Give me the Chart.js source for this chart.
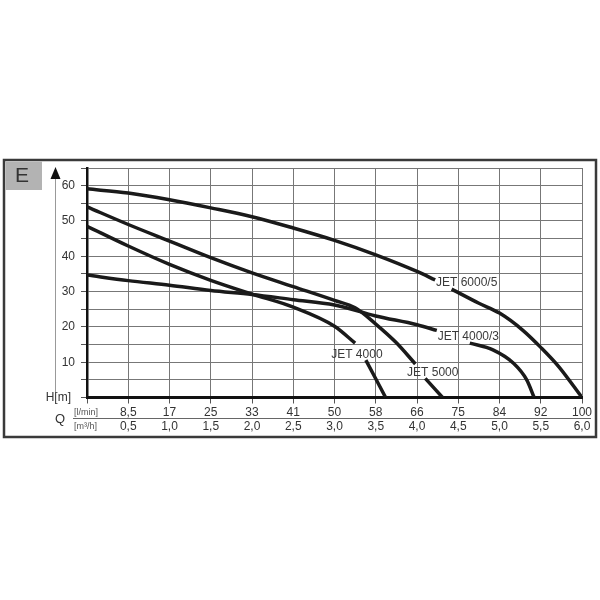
<!DOCTYPE html>
<html>
<head>
<meta charset="utf-8">
<script src="https://cdn.jsdelivr.net/npm/chart.js@4"></script>
<style>
  html, body { margin: 0; padding: 0; background: #fff; }
  #wrap { width: 600px; height: 600px; }
</style>
</head>
<body>
<div id="wrap"><canvas id="pumpChart" width="600" height="600"></canvas></div>
<script>
// Q in m3/h (x), H in m (y); null = gap for the curve label
const lminLabels = ['', '8,5', '17', '25', '33', '41', '50', '58', '66', '75', '84', '92', '100'];
const m3hLabels = ['', '0,5', '1,0', '1,5', '2,0', '2,5', '3,0', '3,5', '4,0', '4,5', '5,0', '5,5', '6,0'];

const jet6000Q = [0, 0.5, 1.0, 1.5, 2.0, 2.5, 3.0, 3.5, 4.0, 4.22, 4.32, 4.42, 4.75, 5.0, 5.28, 5.5, 5.72, 6.0];
const jet6000H = [59.1, 57.9, 56.0, 53.7, 51.2, 48.0, 44.5, 40.4, 35.7, 33.3, null, 30.7, 26.7, 23.9, 19.1, 14.2, 8.7, 0];

const jet4000_3Q = [0, 0.5, 1.0, 1.5, 2.0, 2.5, 3.0, 3.5, 4.0, 4.24, 4.45, 4.64, 4.92, 5.17, 5.33, 5.42];
const jet4000_3H = [34.7, 33.1, 31.8, 30.3, 29.2, 27.7, 26.2, 23.1, 20.6, 19.0, null, 15.4, 13.5, 9.7, 5.0, 0];

const jet5000Q = [0, 0.5, 1.0, 1.5, 2.0, 2.5, 3.0, 3.25, 3.5, 3.75, 3.98, 4.04, 4.1, 4.31];
const jet5000H = [54.0, 49.0, 44.3, 39.6, 35.3, 31.4, 27.5, 25.4, 20.8, 15.5, 9.5, null, 5.4, 0];

const jet4000Q = [0, 0.5, 1.0, 1.5, 2.0, 2.5, 3.0, 3.25, 3.31, 3.38, 3.62];
const jet4000H = [48.5, 42.9, 37.7, 33.2, 29.3, 25.6, 20.2, 15.4, null, 10.6, 0];

const curveNames = ['JET 6000/5', 'JET 4000/3', 'JET 5000', 'JET 4000'];
const nameQ = [4.23, 4.25, 3.88, 2.96];
const nameH = [32.5, 17.1, 7.1, 12.0];

function pts(q, h) {
    return q.map(function (v, i) { return { x: v, y: h[i] }; });
}

const fontFam = '"Liberation Sans", Arial, sans-serif';

const decorations = {
    id: 'decorations',
    beforeDraw: function (chart) {
        const c = chart.ctx;
        c.save();
        c.fillStyle = '#fff';
        c.fillRect(0, 0, chart.width, chart.height);
        // outer frame
        c.strokeStyle = '#3a3a3a';
        c.lineWidth = 2.5;
        c.strokeRect(4, 160, 592, 277);
        // E box
        c.fillStyle = '#b3b3b3';
        c.fillRect(5.5, 161.5, 36.5, 28.5);
        c.fillStyle = '#333';
        c.font = '21px ' + fontFam;
        c.textAlign = 'center';
        c.textBaseline = 'middle';
        c.fillText('E', 22, 176.5);
        c.restore();
    },
    afterDraw: function (chart) {
        const c = chart.ctx;
        const xs = chart.scales.x, ys = chart.scales.y;
        c.save();
        // H arrow
        c.strokeStyle = '#999';
        c.lineWidth = 1;
        c.beginPath();
        c.moveTo(55.5, 178);
        c.lineTo(55.5, 392);
        c.stroke();
        c.fillStyle = '#111';
        c.beginPath();
        c.moveTo(55.5, 167);
        c.lineTo(50.5, 179);
        c.lineTo(60.5, 179);
        c.closePath();
        c.fill();
        // separator between the two Q rows
        c.strokeStyle = '#666';
        c.beginPath();
        c.moveTo(73, 418.5);
        c.lineTo(591, 418.5);
        c.stroke();
        c.fillStyle = '#333';
        c.textBaseline = 'middle';
        c.font = '12px ' + fontFam;
        c.textAlign = 'right';
        c.fillText('H[m]', 71, 398);
        c.textAlign = 'left';
        c.font = '13px ' + fontFam;
        c.fillText('Q', 55, 419);
        c.fillStyle = '#555';
        c.font = '9px ' + fontFam;
        c.fillText('[l/min]', 74, 412.5);
        c.fillText('[m\u00b3/h]', 74, 426.5);
        // curve names
        c.fillStyle = '#3a3a3a';
        c.font = '12px ' + fontFam;
        curveNames.forEach(function (n, i) {
            c.fillText(n, xs.getPixelForValue(nameQ[i]), ys.getPixelForValue(nameH[i]));
        });
        c.restore();
    }
};

function curve(q, h) {
    return {
        data: pts(q, h),
        borderColor: '#1a1a1a',
        borderWidth: 3.5,
        pointRadius: 0,
        fill: false,
        cubicInterpolationMode: 'monotone',
        spanGaps: false
    };
}

new Chart('pumpChart', {
    type: 'line',
    data: {
        datasets: [
            curve(jet6000Q, jet6000H),
            curve(jet4000_3Q, jet4000_3H),
            curve(jet5000Q, jet5000H),
            curve(jet4000Q, jet4000H)
        ]
    },
    options: {
        responsive: false,
        animation: false,
        layout: { padding: { left: 0, top: 168, right: 18, bottom: 157.5 } },
        plugins: { legend: { display: false }, tooltip: { enabled: false } },
        scales: {
            x: {
                type: 'linear',
                min: 0,
                max: 6,
                afterFit: function (s) { s.height = 45; },
                grid: { color: '#777', lineWidth: 1, tickLength: 6, tickColor: '#555' },
                border: { color: '#111', width: 3 },
                ticks: {
                    stepSize: 0.5,
                    padding: 1.5,
                    maxRotation: 0,
                    autoSkip: false,
                    color: '#333',
                    font: { family: fontFam, size: 12 },
                    callback: function (v, i) { return [lminLabels[i], m3hLabels[i]]; }
                }
            },
            y: {
                min: 0,
                max: 65,
                afterFit: function (s) { s.width = 87; },
                grid: { color: '#777', lineWidth: 1, tickLength: 6, tickColor: '#555' },
                border: { color: '#111', width: 2.5 },
                ticks: {
                    stepSize: 5,
                    padding: 6,
                    color: '#333',
                    font: { family: fontFam, size: 12 },
                    callback: function (v) { return (v > 0 && v % 10 === 0) ? String(v) : ''; }
                }
            }
        }
    },
    plugins: [decorations]
});
</script>
</body>
</html>
